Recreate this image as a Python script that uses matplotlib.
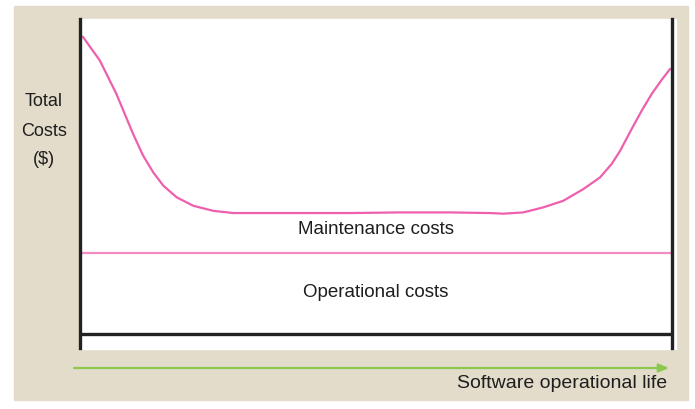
import matplotlib
matplotlib.use("Agg")
from matplotlib import pyplot as plt
from matplotlib.patches import Rectangle

# software life (% of lifetime) and total cost (% of axis height)
life = [0.51, 1.91, 3.33, 4.73, 6.13, 7.55, 8.95, 10.64, 12.38, 14.07, 16.33, 19.14,
        22.52, 25.90, 28.72, 37.16, 45.61, 54.05, 62.50, 69.26, 71.50, 74.88, 78.26,
        81.64, 85.02, 87.84, 89.81, 91.22, 93.19, 94.88, 96.57, 98.26, 99.66]
total_cost = [94.3, 90.6, 86.9, 81.6, 76.3, 69.9, 63.6, 56.7, 51.3, 47.1, 43.4, 40.7,
              39.1, 38.4, 38.4, 38.4, 38.4, 38.6, 38.6, 38.4, 38.2, 38.6, 40.2,
              42.3, 46.0, 49.7, 54.0, 58.1, 65.1, 70.9, 76.2, 80.7, 84.1]
operational_level = 25.7

labels = ["Maintenance costs", "Operational costs"]
label_levels = [33.6, 13.6]

W, H = 695, 410
fig = plt.figure(figsize=(W / 100, H / 100), dpi=100)
plt.rcParams['font.family'] = ['Liberation Sans', 'DejaVu Sans']

beige = "#e3dccb"
fig.patches.append(Rectangle((14 / W, 1 - 401 / H), 674 / W, 394 / H,
                             transform=fig.transFigure, color=beige, zorder=0))
fig.patches.append(Rectangle((82 / W, 1 - 350 / H), 594 / W, 330 / H,
                             transform=fig.transFigure, color="white", zorder=0))

ax = fig.add_axes([80 / W, 1 - 349 / H, 592 / W, 329 / H])
ax.set_zorder(2)
ax.patch.set_alpha(0)
ax.set_xlim(0, 100)
ax.set_ylim(-4.44, 100)

ax.plot(life, total_cost, color="#ee5fae", lw=1.6, solid_joinstyle="round")
ax.axhline(operational_level, color="#f28cc2", lw=1.6)
ax.axhline(0, color="#222222", lw=2.4)

for s in ["top", "bottom"]:
    ax.spines[s].set_visible(False)
for s in ["left", "right"]:
    ax.spines[s].set_color("#222222")
    ax.spines[s].set_linewidth(2.4)
ax.set_xticks([])
ax.set_yticks([])

for text, lvl in zip(labels, label_levels):
    ax.text(50, lvl, text, ha="center", va="center", fontsize=13.5, color="#1e1e1e")

for txt, yy in zip(["Total", "Costs", "($)"], [101, 131, 160]):
    fig.text(44 / W, 1 - yy / H, txt, ha="center", va="center", fontsize=13, color="#1e1e1e")

fig.text(667 / W, 1 - 384 / H, "Software operational life", ha="right", va="center",
         fontsize=14, color="#1e1e1e")

ax.annotate("", xy=(669 / W, 1 - 369 / H), xytext=(74 / W, 1 - 369 / H),
            xycoords="figure fraction", textcoords="figure fraction",
            annotation_clip=False,
            arrowprops=dict(arrowstyle="-|>,head_length=0.6,head_width=0.25",
                            color="#8cc850", lw=1.6, shrinkA=0, shrinkB=0))

fig.savefig("out.png", dpi=100)
